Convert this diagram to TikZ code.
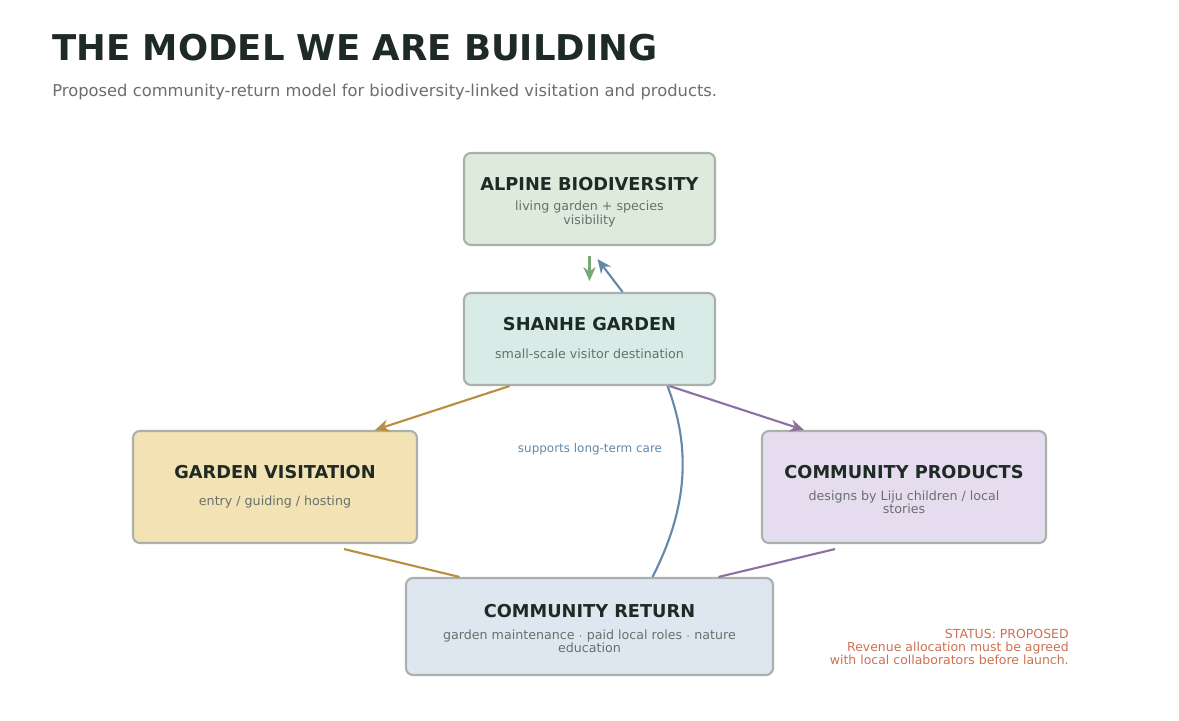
\documentclass[tikz,border=0pt]{standalone}
\usepackage{fontspec}
\setmainfont{DejaVu Sans}
\usetikzlibrary{calc,arrows.meta}
\definecolor{ink}{RGB}{30,42,36}
\definecolor{muted}{RGB}{105,112,108}
\definecolor{edge}{RGB}{170,176,172}
\definecolor{fgreen}{RGB}{221,234,220}
\definecolor{fteal}{RGB}{217,235,230}
\definecolor{fsand}{RGB}{242,226,180}
\definecolor{flilac}{RGB}{229,221,239}
\definecolor{fblue}{RGB}{222,230,240}
\definecolor{lgreen}{RGB}{118,168,120}
\definecolor{lblue}{RGB}{100,135,170}
\definecolor{lgold}{RGB}{185,142,60}
\definecolor{lpurple}{RGB}{140,112,160}
\definecolor{coral}{RGB}{204,112,82}

\begin{document}
\begin{tikzpicture}[x=0.02cm,y=-0.02cm,
  box/.style={draw=edge, line width=1.2pt, rounded corners=4pt, inner sep=0pt},
  head/.style={font=\bfseries\fontsize{10.1}{12}\selectfont, text=ink},
  sub/.style={font=\fontsize{7.2}{7.6}\selectfont, text=muted, align=center},
  link/.style={line width=1.2pt, -{Stealth[length=8pt,width=7pt]}}]
 \useasboundingbox (0,0) rectangle (1179,720);
 % title
 \node[anchor=west, inner sep=0pt, font=\bfseries\fontsize{20.2}{24}\selectfont, text=ink] (title) at (52,48) {THE MODEL WE ARE BUILDING};
 \node[anchor=west, inner sep=0pt, font=\fontsize{9.3}{11}\selectfont, text=muted] (subtitle) at (52,92) {Proposed community-return model for biodiversity-linked visitation and products.};
 % boxes
 \node[box, fill=fgreen, minimum width=251*0.02cm, minimum height=92*0.02cm] (alpine) at (589.5,199) {};
 \node[box, fill=fteal, minimum width=251*0.02cm, minimum height=92*0.02cm] (shanhe) at (589.5,339) {};
 \node[box, fill=fsand, minimum width=284*0.02cm, minimum height=112*0.02cm] (visit) at (275,487) {};
 \node[box, fill=flilac, minimum width=284*0.02cm, minimum height=112*0.02cm] (prod) at (904,487) {};
 \node[box, fill=fblue, minimum width=367*0.02cm, minimum height=97*0.02cm] (ret) at (589.5,626.5) {};
 % box texts
 \node[head] (alpineH) at (589.5,184) {ALPINE BIODIVERSITY};
 \node[sub] (alpineS) at (589.5,214) {living garden + species\\visibility};
 \node[head] (shanheH) at (589.5,324) {SHANHE GARDEN};
 \node[sub] (shanheS) at (589.5,354) {small-scale visitor destination};
 \node[head] (visitH) at (275,472) {GARDEN VISITATION};
 \node[sub] (visitS) at (275,502) {entry / guiding / hosting};
 \node[head] (prodH) at (904,472) {COMMUNITY PRODUCTS};
 \node[sub] (prodS) at (904,502) {designs by Liju children / local\\stories};
 \node[head] (retH) at (589.5,611) {COMMUNITY RETURN};
 \node[sub] (retS) at (589.5,641) {garden maintenance $\cdot$ paid local roles $\cdot$ nature\\education};
 % connectors
 \draw[link, lgreen] ($(alpine.south)+(0,10)$) -- ($(alpine.south)+(0,35)$);
 \draw[link, lblue] ($(shanhe.north)+(33,0)$) -- ($(alpine.south)+(8,13)$);
 \draw[link, lgold] ($(shanhe.south)+(-80,0)$) -- ($(visit.north)+(100,0)$);
 \draw[link, lpurple] ($(shanhe.south)+(80,0)$) -- ($(prod.north)+(-100,0)$);
 \draw[line width=1.2pt, lgold] ($(visit.south)+(69,5)$) -- ($(ret.north)+(-130,0)$);
 \draw[line width=1.2pt, lpurple] ($(prod.south)+(-69,5)$) -- ($(ret.north)+(129,0)$);
 \draw[line width=1.2pt, lblue] ($(ret.north)+(63,0)$) .. controls (692,500) and (688,440) .. ($(shanhe.south)+(78,0)$);
 \node[font=\fontsize{6.8}{8}\selectfont, text=lblue] (care) at (590,449) {supports long-term care};
 % status note
 \node[anchor=north east, inner sep=0pt, align=right, font=\fontsize{7.1}{7.4}\selectfont, text=coral] (status) at (1069,629) {STATUS: PROPOSED\\Revenue allocation must be agreed\\with local collaborators before launch.};
\end{tikzpicture}
\end{document}
